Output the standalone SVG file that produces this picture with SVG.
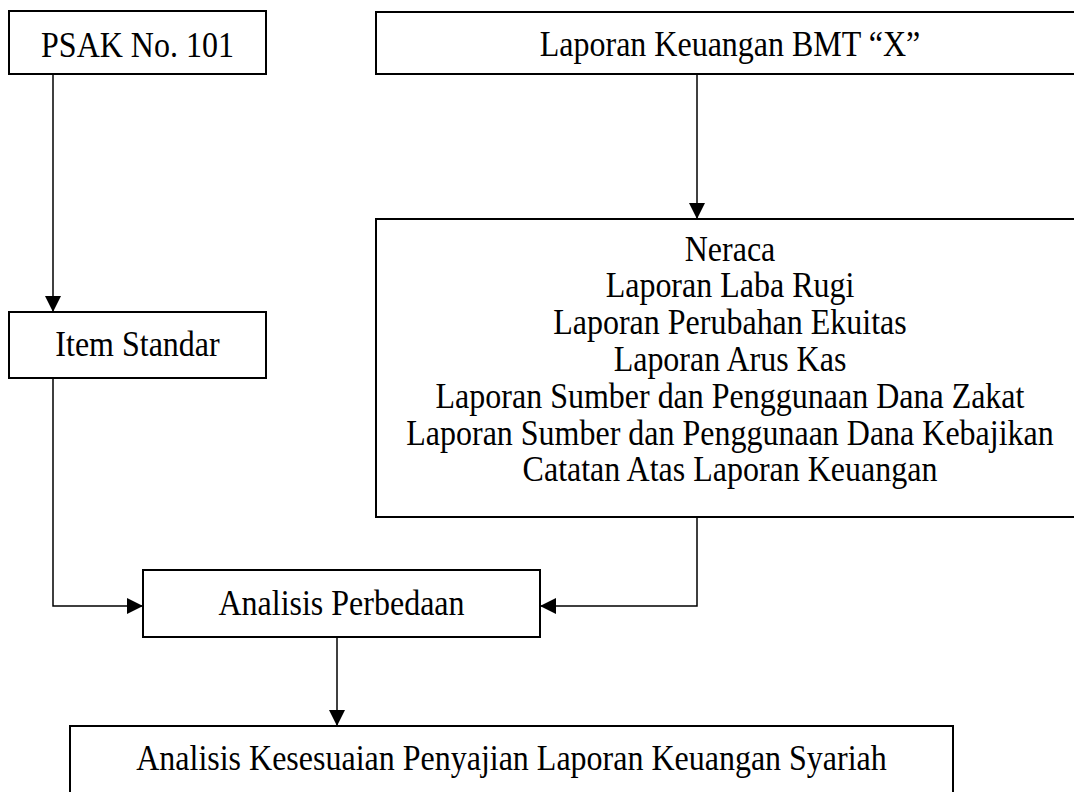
<svg xmlns="http://www.w3.org/2000/svg" width="1074" height="792" viewBox="0 0 1074 792">
<defs>
<marker id="arr" markerWidth="16" markerHeight="16" refX="16" refY="8" orient="auto" markerUnits="userSpaceOnUse"><path d="M0,0 L16,8 L0,16 Z" fill="#000"/></marker>
<style>
.box{fill:#fff;stroke:#000;stroke-width:2}
.t{font-family:"Liberation Serif","Times New Roman",serif;font-size:32px;fill:#000;text-anchor:middle}
.c{fill:none;stroke:#000;stroke-width:1.5}
</style>
</defs>
<rect width="1074" height="792" fill="#fff"/>
<g id="connectors">
<path class="c" d="M53,74 V312" marker-end="url(#arr)"/>
<path class="c" d="M697,74 V219" marker-end="url(#arr)"/>
<path class="c" d="M53,378 V606 H143" marker-end="url(#arr)"/>
<path class="c" d="M697,517 V606 H540" marker-end="url(#arr)"/>
<path class="c" d="M337,637 V726" marker-end="url(#arr)"/>
</g>
<g id="psak">
<rect class="box" x="9" y="11" width="257" height="63"/>
<text class="t" transform="translate(137.5,57) scale(1,1.15)">PSAK No. 101</text>
</g>
<g id="laporan">
<rect class="box" x="376" y="12" width="720" height="62"/>
<text class="t" transform="translate(730,56) scale(1,1.15)">Laporan Keuangan BMT “X”</text>
</g>
<g id="item">
<rect class="box" x="9" y="312" width="257" height="66"/>
<text class="t" transform="translate(137.5,356) scale(1,1.15)">Item Standar</text>
</g>
<g id="komponen">
<rect class="box" x="376" y="219" width="720" height="298"/>
<text class="t" transform="translate(730,260.5) scale(1,1.15)">Neraca</text>
<text class="t" transform="translate(730,297.3) scale(1,1.15)">Laporan Laba Rugi</text>
<text class="t" transform="translate(730,334.1) scale(1,1.15)">Laporan Perubahan Ekuitas</text>
<text class="t" transform="translate(730,370.9) scale(1,1.15)">Laporan Arus Kas</text>
<text class="t" transform="translate(730,407.7) scale(1,1.15)">Laporan Sumber dan Penggunaan Dana Zakat</text>
<text class="t" transform="translate(730,444.5) scale(1,1.15)">Laporan Sumber dan Penggunaan Dana Kebajikan</text>
<text class="t" transform="translate(730,481.3) scale(1,1.15)">Catatan Atas Laporan Keuangan</text>
</g>
<g id="analisis">
<rect class="box" x="143" y="570" width="397" height="67"/>
<text class="t" transform="translate(341.5,615) scale(1,1.15)">Analisis Perbedaan</text>
</g>
<g id="kesesuaian">
<rect class="box" x="70" y="726" width="883" height="100"/>
<text class="t" transform="translate(511.5,770) scale(1,1.15)">Analisis Kesesuaian Penyajian Laporan Keuangan Syariah</text>
</g>
</svg>
